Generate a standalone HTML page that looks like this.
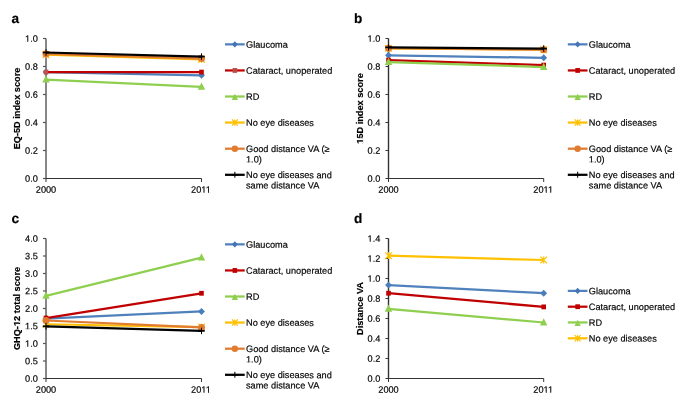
<!DOCTYPE html><html><head><meta charset="utf-8"><style>html,body{margin:0;padding:0;background:#fff;width:685px;height:401px;overflow:hidden;}svg{display:block;will-change:transform;}text{font-family:"Liberation Sans",sans-serif;fill:#000;stroke:#000;stroke-width:0.18px;}</style></head><body>
<svg width="685" height="401" viewBox="0 0 685 401">
<text x="11.40" y="23.10" font-size="13.6" font-weight="bold" text-anchor="start" transform="rotate(0.03 11.40 23.10)" stroke-width="0">a</text>
<text x="0" y="0" font-size="9.2" font-weight="bold" text-anchor="middle" transform="translate(19.90,108.50) rotate(-90)">EQ-5D index score</text>
<text x="37.80" y="181.80" font-size="9.2" font-weight="normal" text-anchor="end" transform="rotate(0.03 37.80 181.80)" >0.0</text>
<text x="37.80" y="153.80" font-size="9.2" font-weight="normal" text-anchor="end" transform="rotate(0.03 37.80 153.80)" >0.2</text>
<text x="37.80" y="125.80" font-size="9.2" font-weight="normal" text-anchor="end" transform="rotate(0.03 37.80 125.80)" >0.4</text>
<text x="37.80" y="97.80" font-size="9.2" font-weight="normal" text-anchor="end" transform="rotate(0.03 37.80 97.80)" >0.6</text>
<text x="37.80" y="69.80" font-size="9.2" font-weight="normal" text-anchor="end" transform="rotate(0.03 37.80 69.80)" >0.8</text>
<text x="37.80" y="41.80" font-size="9.2" font-weight="normal" text-anchor="end" transform="rotate(0.03 37.80 41.80)" >1.0</text>
<text x="46.00" y="192.80" font-size="9.2" font-weight="normal" text-anchor="middle" transform="rotate(0.03 46.00 192.80)" >2000</text>
<text x="201.00" y="192.80" font-size="9.2" font-weight="normal" text-anchor="middle" transform="rotate(0.03 201.00 192.80)" >2011</text>
<path d="M46.00,38.50L46.00,178.50" stroke="#111" stroke-width="1.0" fill="none"/>
<path d="M43.00,178.50L46.00,178.50" stroke="#555" stroke-width="1.2" fill="none"/>
<path d="M43.00,150.50L46.00,150.50" stroke="#555" stroke-width="1.2" fill="none"/>
<path d="M43.00,122.50L46.00,122.50" stroke="#555" stroke-width="1.2" fill="none"/>
<path d="M43.00,94.50L46.00,94.50" stroke="#555" stroke-width="1.2" fill="none"/>
<path d="M43.00,66.50L46.00,66.50" stroke="#555" stroke-width="1.2" fill="none"/>
<path d="M43.00,38.50L46.00,38.50" stroke="#555" stroke-width="1.2" fill="none"/>
<path d="M46.00,178.50L201.50,178.50" stroke="#333" stroke-width="1.2" fill="none"/>
<path d="M46.00,178.50L46.00,182.00M201.50,178.50L201.50,182.00" stroke="#333" stroke-width="1" fill="none"/>
<path d="M46.00,72.10L201.50,75.32" stroke="#4F81BD" stroke-width="2.25" fill="none"/>
<path d="M46.00,68.65L49.45,72.10L46.00,75.55L42.55,72.10Z" fill="#4A7DBB"/>
<path d="M201.50,71.87L204.95,75.32L201.50,78.77L198.05,75.32Z" fill="#4A7DBB"/>
<path d="M46.00,72.10L201.50,72.10" stroke="#C00000" stroke-width="2.25" fill="none"/>
<rect x="43.70" y="69.70" width="4.60" height="4.80" fill="#C0504D"/>
<rect x="199.20" y="69.70" width="4.60" height="4.80" fill="#C00000"/>
<path d="M46.00,79.66L201.50,86.80" stroke="#8FCF4F" stroke-width="2.25" fill="none"/>
<path d="M46.00,75.36L49.70,82.56L42.30,82.56Z" fill="#8FCF4F"/>
<path d="M201.50,82.50L205.20,89.70L197.80,89.70Z" fill="#8FCF4F"/>
<path d="M46.00,54.60L201.50,59.36" stroke="#FFC000" stroke-width="2.25" fill="none"/>
<path d="M42.70,51.20L49.30,58.00M49.30,51.20L42.70,58.00M46.00,51.20L46.00,58.00" stroke="#FFC000" stroke-width="1.2" fill="none"/>
<path d="M198.20,55.96L204.80,62.76M204.80,55.96L198.20,62.76M201.50,55.96L201.50,62.76" stroke="#FFC000" stroke-width="1.2" fill="none"/>
<path d="M46.00,53.90L201.50,58.52" stroke="#E07B2F" stroke-width="2.25" fill="none"/>
<circle cx="46.00" cy="53.90" r="3.5" fill="#E07B2F"/>
<circle cx="201.50" cy="58.52" r="3.5" fill="#E07B2F"/>
<path d="M46.00,52.50L201.50,56.56" stroke="#000000" stroke-width="2.25" fill="none"/>
<path d="M46.00,49.25L46.00,55.75" stroke="#000000" stroke-width="1.05"/><path d="M42.75,52.50L49.25,52.50" stroke="#000000" stroke-width="1.7"/>
<path d="M201.50,53.31L201.50,59.81" stroke="#000000" stroke-width="1.05"/><path d="M198.25,56.56L204.75,56.56" stroke="#000000" stroke-width="1.7"/>
<path d="M225.00,44.35L244.70,44.35" stroke="#4F81BD" stroke-width="2.25" fill="none"/>
<path d="M234.85,41.25L237.75,44.35L234.85,47.45L231.95,44.35Z" fill="#4375B5"/>
<text x="246.00" y="47.65" font-size="9.2" font-weight="normal" text-anchor="start" transform="rotate(0.03 246.00 47.65)" >Glaucoma</text>
<path d="M225.00,70.45L244.70,70.45" stroke="#C00000" stroke-width="2.25" fill="none"/>
<rect x="232.55" y="68.05" width="4.60" height="4.80" fill="#B94B4B"/>
<text x="246.00" y="73.75" font-size="9.2" font-weight="normal" text-anchor="start" transform="rotate(0.03 246.00 73.75)" >Cataract, unoperated</text>
<path d="M225.00,96.50L244.70,96.50" stroke="#8FCF4F" stroke-width="2.25" fill="none"/>
<path d="M234.85,93.70L238.05,100.00L231.65,100.00Z" fill="#8FCF4F"/>
<text x="246.00" y="99.80" font-size="9.2" font-weight="normal" text-anchor="start" transform="rotate(0.03 246.00 99.80)" >RD</text>
<path d="M225.00,122.55L244.70,122.55" stroke="#FFC000" stroke-width="2.25" fill="none"/>
<path d="M231.95,119.45L237.75,125.65M237.75,119.45L231.95,125.65M234.85,119.45L234.85,125.65" stroke="#FFC000" stroke-width="1.2" fill="none"/>
<text x="246.00" y="125.85" font-size="9.2" font-weight="normal" text-anchor="start" transform="rotate(0.03 246.00 125.85)" >No eye diseases</text>
<path d="M225.00,148.70L244.70,148.70" stroke="#E07B2F" stroke-width="2.25" fill="none"/>
<circle cx="234.85" cy="148.70" r="3.2" fill="#E07B2F"/>
<text x="246.00" y="152.00" font-size="9.2" font-weight="normal" text-anchor="start" transform="rotate(0.03 246.00 152.00)" >Good distance VA (≥</text>
<text x="246.00" y="162.40" font-size="9.2" font-weight="normal" text-anchor="start" transform="rotate(0.03 246.00 162.40)" >1.0)</text>
<path d="M225.00,174.80L244.70,174.80" stroke="#000000" stroke-width="2.25" fill="none"/>
<path d="M234.85,171.80L234.85,177.80" stroke="#000000" stroke-width="1.05"/><path d="M231.85,174.80L237.85,174.80" stroke="#000000" stroke-width="1.7"/>
<text x="246.00" y="178.10" font-size="9.2" font-weight="normal" text-anchor="start" transform="rotate(0.03 246.00 178.10)" >No eye diseases and</text>
<text x="246.00" y="188.50" font-size="9.2" font-weight="normal" text-anchor="start" transform="rotate(0.03 246.00 188.50)" >same distance VA</text>
<text x="353.90" y="23.10" font-size="13.6" font-weight="bold" text-anchor="start" transform="rotate(0.03 353.90 23.10)" stroke-width="0">b</text>
<text x="0" y="0" font-size="9.2" font-weight="bold" text-anchor="middle" transform="translate(363.00,108.50) rotate(-90)">15D index score</text>
<text x="380.30" y="181.80" font-size="9.2" font-weight="normal" text-anchor="end" transform="rotate(0.03 380.30 181.80)" >0.0</text>
<text x="380.30" y="153.80" font-size="9.2" font-weight="normal" text-anchor="end" transform="rotate(0.03 380.30 153.80)" >0.2</text>
<text x="380.30" y="125.80" font-size="9.2" font-weight="normal" text-anchor="end" transform="rotate(0.03 380.30 125.80)" >0.4</text>
<text x="380.30" y="97.80" font-size="9.2" font-weight="normal" text-anchor="end" transform="rotate(0.03 380.30 97.80)" >0.6</text>
<text x="380.30" y="69.80" font-size="9.2" font-weight="normal" text-anchor="end" transform="rotate(0.03 380.30 69.80)" >0.8</text>
<text x="380.30" y="41.80" font-size="9.2" font-weight="normal" text-anchor="end" transform="rotate(0.03 380.30 41.80)" >1.0</text>
<text x="388.50" y="192.80" font-size="9.2" font-weight="normal" text-anchor="middle" transform="rotate(0.03 388.50 192.80)" >2000</text>
<text x="543.20" y="192.80" font-size="9.2" font-weight="normal" text-anchor="middle" transform="rotate(0.03 543.20 192.80)" >2011</text>
<path d="M388.50,38.50L388.50,178.50" stroke="#333" stroke-width="1.4" fill="none"/>
<path d="M385.50,178.50L388.50,178.50" stroke="#333" stroke-width="1.0" fill="none"/>
<path d="M385.50,150.50L388.50,150.50" stroke="#333" stroke-width="1.0" fill="none"/>
<path d="M385.50,122.50L388.50,122.50" stroke="#333" stroke-width="1.0" fill="none"/>
<path d="M385.50,94.50L388.50,94.50" stroke="#333" stroke-width="1.0" fill="none"/>
<path d="M385.50,66.50L388.50,66.50" stroke="#333" stroke-width="1.0" fill="none"/>
<path d="M385.50,38.50L388.50,38.50" stroke="#333" stroke-width="1.0" fill="none"/>
<path d="M388.50,178.50L543.70,178.50" stroke="#333" stroke-width="1.2" fill="none"/>
<path d="M388.50,178.50L388.50,182.00M543.70,178.50L543.70,182.00" stroke="#333" stroke-width="1" fill="none"/>
<path d="M388.50,55.30L543.70,57.82" stroke="#4F81BD" stroke-width="2.25" fill="none"/>
<path d="M388.50,51.85L391.95,55.30L388.50,58.75L385.05,55.30Z" fill="#4A7DBB"/>
<path d="M543.70,54.37L547.15,57.82L543.70,61.27L540.25,57.82Z" fill="#4A7DBB"/>
<path d="M388.50,60.06L543.70,65.10" stroke="#C00000" stroke-width="2.25" fill="none"/>
<rect x="386.20" y="57.66" width="4.60" height="4.80" fill="#C00000"/>
<rect x="541.40" y="62.70" width="4.60" height="4.80" fill="#C00000"/>
<path d="M388.50,62.02L543.70,67.06" stroke="#8FCF4F" stroke-width="2.25" fill="none"/>
<path d="M388.50,57.72L392.20,64.92L384.80,64.92Z" fill="#8FCF4F"/>
<path d="M543.70,62.76L547.40,69.96L540.00,69.96Z" fill="#8FCF4F"/>
<path d="M388.50,48.30L543.70,49.70" stroke="#FFC000" stroke-width="2.25" fill="none"/>
<path d="M385.20,44.90L391.80,51.70M391.80,44.90L385.20,51.70M388.50,44.90L388.50,51.70" stroke="#FFC000" stroke-width="1.2" fill="none"/>
<path d="M540.40,46.30L547.00,53.10M547.00,46.30L540.40,53.10M543.70,46.30L543.70,53.10" stroke="#FFC000" stroke-width="1.2" fill="none"/>
<path d="M388.50,48.16L543.70,49.70" stroke="#E07B2F" stroke-width="2.25" fill="none"/>
<circle cx="388.50" cy="48.16" r="3.5" fill="#E07B2F"/>
<circle cx="543.70" cy="49.70" r="3.5" fill="#E07B2F"/>
<path d="M388.50,47.32L543.70,48.58" stroke="#000000" stroke-width="2.25" fill="none"/>
<path d="M388.50,44.07L388.50,50.57" stroke="#000000" stroke-width="1.05"/><path d="M385.25,47.32L391.75,47.32" stroke="#000000" stroke-width="1.7"/>
<path d="M543.70,45.33L543.70,51.83" stroke="#000000" stroke-width="1.05"/><path d="M540.45,48.58L546.95,48.58" stroke="#000000" stroke-width="1.7"/>
<path d="M567.80,44.35L587.50,44.35" stroke="#4F81BD" stroke-width="2.25" fill="none"/>
<path d="M577.65,41.25L580.55,44.35L577.65,47.45L574.75,44.35Z" fill="#4375B5"/>
<text x="588.80" y="47.65" font-size="9.2" font-weight="normal" text-anchor="start" transform="rotate(0.03 588.80 47.65)" >Glaucoma</text>
<path d="M567.80,70.45L587.50,70.45" stroke="#C00000" stroke-width="2.25" fill="none"/>
<rect x="575.35" y="68.05" width="4.60" height="4.80" fill="#C00000"/>
<text x="588.80" y="73.75" font-size="9.2" font-weight="normal" text-anchor="start" transform="rotate(0.03 588.80 73.75)" >Cataract, unoperated</text>
<path d="M567.80,96.50L587.50,96.50" stroke="#8FCF4F" stroke-width="2.25" fill="none"/>
<path d="M577.65,93.70L580.85,100.00L574.45,100.00Z" fill="#8FCF4F"/>
<text x="588.80" y="99.80" font-size="9.2" font-weight="normal" text-anchor="start" transform="rotate(0.03 588.80 99.80)" >RD</text>
<path d="M567.80,122.55L587.50,122.55" stroke="#FFC000" stroke-width="2.25" fill="none"/>
<path d="M574.75,119.45L580.55,125.65M580.55,119.45L574.75,125.65M577.65,119.45L577.65,125.65" stroke="#FFC000" stroke-width="1.2" fill="none"/>
<text x="588.80" y="125.85" font-size="9.2" font-weight="normal" text-anchor="start" transform="rotate(0.03 588.80 125.85)" >No eye diseases</text>
<path d="M567.80,148.70L587.50,148.70" stroke="#E07B2F" stroke-width="2.25" fill="none"/>
<circle cx="577.65" cy="148.70" r="3.2" fill="#E07B2F"/>
<text x="588.80" y="152.00" font-size="9.2" font-weight="normal" text-anchor="start" transform="rotate(0.03 588.80 152.00)" >Good distance VA (≥</text>
<text x="588.80" y="162.40" font-size="9.2" font-weight="normal" text-anchor="start" transform="rotate(0.03 588.80 162.40)" >1.0)</text>
<path d="M567.80,174.80L587.50,174.80" stroke="#000000" stroke-width="2.25" fill="none"/>
<path d="M577.65,171.80L577.65,177.80" stroke="#000000" stroke-width="1.05"/><path d="M574.65,174.80L580.65,174.80" stroke="#000000" stroke-width="1.7"/>
<text x="588.80" y="178.10" font-size="9.2" font-weight="normal" text-anchor="start" transform="rotate(0.03 588.80 178.10)" >No eye diseases and</text>
<text x="588.80" y="188.50" font-size="9.2" font-weight="normal" text-anchor="start" transform="rotate(0.03 588.80 188.50)" >same distance VA</text>
<text x="11.40" y="223.10" font-size="13.6" font-weight="bold" text-anchor="start" transform="rotate(0.03 11.40 223.10)" stroke-width="0">c</text>
<text x="0" y="0" font-size="9.2" font-weight="bold" text-anchor="middle" transform="translate(19.90,308.50) rotate(-90)">GHQ-12 total score</text>
<text x="37.80" y="381.80" font-size="9.2" font-weight="normal" text-anchor="end" transform="rotate(0.03 37.80 381.80)" >0.0</text>
<text x="37.80" y="364.30" font-size="9.2" font-weight="normal" text-anchor="end" transform="rotate(0.03 37.80 364.30)" >0.5</text>
<text x="37.80" y="346.80" font-size="9.2" font-weight="normal" text-anchor="end" transform="rotate(0.03 37.80 346.80)" >1.0</text>
<text x="37.80" y="329.30" font-size="9.2" font-weight="normal" text-anchor="end" transform="rotate(0.03 37.80 329.30)" >1.5</text>
<text x="37.80" y="311.80" font-size="9.2" font-weight="normal" text-anchor="end" transform="rotate(0.03 37.80 311.80)" >2.0</text>
<text x="37.80" y="294.30" font-size="9.2" font-weight="normal" text-anchor="end" transform="rotate(0.03 37.80 294.30)" >2.5</text>
<text x="37.80" y="276.80" font-size="9.2" font-weight="normal" text-anchor="end" transform="rotate(0.03 37.80 276.80)" >3.0</text>
<text x="37.80" y="259.30" font-size="9.2" font-weight="normal" text-anchor="end" transform="rotate(0.03 37.80 259.30)" >3.5</text>
<text x="37.80" y="241.80" font-size="9.2" font-weight="normal" text-anchor="end" transform="rotate(0.03 37.80 241.80)" >4.0</text>
<text x="46.00" y="392.80" font-size="9.2" font-weight="normal" text-anchor="middle" transform="rotate(0.03 46.00 392.80)" >2000</text>
<text x="201.00" y="392.80" font-size="9.2" font-weight="normal" text-anchor="middle" transform="rotate(0.03 201.00 392.80)" >2011</text>
<path d="M46.00,238.50L46.00,378.50" stroke="#111" stroke-width="1.0" fill="none"/>
<path d="M43.00,378.50L46.00,378.50" stroke="#555" stroke-width="1.2" fill="none"/>
<path d="M43.00,361.00L46.00,361.00" stroke="#555" stroke-width="1.2" fill="none"/>
<path d="M43.00,343.50L46.00,343.50" stroke="#555" stroke-width="1.2" fill="none"/>
<path d="M43.00,326.00L46.00,326.00" stroke="#555" stroke-width="1.2" fill="none"/>
<path d="M43.00,308.50L46.00,308.50" stroke="#555" stroke-width="1.2" fill="none"/>
<path d="M43.00,291.00L46.00,291.00" stroke="#555" stroke-width="1.2" fill="none"/>
<path d="M43.00,273.50L46.00,273.50" stroke="#555" stroke-width="1.2" fill="none"/>
<path d="M43.00,256.00L46.00,256.00" stroke="#555" stroke-width="1.2" fill="none"/>
<path d="M43.00,238.50L46.00,238.50" stroke="#555" stroke-width="1.2" fill="none"/>
<path d="M46.00,378.50L201.50,378.50" stroke="#333" stroke-width="1.2" fill="none"/>
<path d="M46.00,378.50L46.00,382.00M201.50,378.50L201.50,382.00" stroke="#333" stroke-width="1" fill="none"/>
<path d="M46.00,318.65L201.50,311.48" stroke="#4F81BD" stroke-width="2.25" fill="none"/>
<path d="M46.00,315.20L49.45,318.65L46.00,322.10L42.55,318.65Z" fill="#4A7DBB"/>
<path d="M201.50,308.03L204.95,311.48L201.50,314.93L198.05,311.48Z" fill="#4A7DBB"/>
<path d="M46.00,318.02L201.50,293.27" stroke="#C00000" stroke-width="2.25" fill="none"/>
<rect x="43.70" y="315.62" width="4.60" height="4.80" fill="#C00000"/>
<rect x="199.20" y="290.88" width="4.60" height="4.80" fill="#C00000"/>
<path d="M46.00,295.90L201.50,257.57" stroke="#8FCF4F" stroke-width="2.25" fill="none"/>
<path d="M46.00,291.60L49.70,298.80L42.30,298.80Z" fill="#8FCF4F"/>
<path d="M201.50,253.27L205.20,260.47L197.80,260.47Z" fill="#8FCF4F"/>
<path d="M46.00,324.25L201.50,327.05" stroke="#FFC000" stroke-width="2.25" fill="none"/>
<path d="M42.70,320.85L49.30,327.65M49.30,320.85L42.70,327.65M46.00,320.85L46.00,327.65" stroke="#FFC000" stroke-width="1.2" fill="none"/>
<path d="M198.20,323.65L204.80,330.45M204.80,323.65L198.20,330.45M201.50,323.65L201.50,330.45" stroke="#FFC000" stroke-width="1.2" fill="none"/>
<path d="M46.00,320.50L201.50,327.40" stroke="#E07B2F" stroke-width="2.25" fill="none"/>
<circle cx="46.00" cy="320.50" r="3.5" fill="#E07B2F"/>
<circle cx="201.50" cy="327.40" r="3.5" fill="#E07B2F"/>
<path d="M46.00,326.35L201.50,330.90" stroke="#000000" stroke-width="2.25" fill="none"/>
<path d="M46.00,323.10L46.00,329.60" stroke="#000000" stroke-width="1.05"/><path d="M42.75,326.35L49.25,326.35" stroke="#000000" stroke-width="1.7"/>
<path d="M201.50,327.65L201.50,334.15" stroke="#000000" stroke-width="1.05"/><path d="M198.25,330.90L204.75,330.90" stroke="#000000" stroke-width="1.7"/>
<path d="M225.00,244.35L244.70,244.35" stroke="#4F81BD" stroke-width="2.25" fill="none"/>
<path d="M234.85,241.25L237.75,244.35L234.85,247.45L231.95,244.35Z" fill="#4375B5"/>
<text x="246.00" y="247.65" font-size="9.2" font-weight="normal" text-anchor="start" transform="rotate(0.03 246.00 247.65)" >Glaucoma</text>
<path d="M225.00,270.45L244.70,270.45" stroke="#C00000" stroke-width="2.25" fill="none"/>
<rect x="232.55" y="268.05" width="4.60" height="4.80" fill="#C00000"/>
<text x="246.00" y="273.75" font-size="9.2" font-weight="normal" text-anchor="start" transform="rotate(0.03 246.00 273.75)" >Cataract, unoperated</text>
<path d="M225.00,296.50L244.70,296.50" stroke="#8FCF4F" stroke-width="2.25" fill="none"/>
<path d="M234.85,293.70L238.05,300.00L231.65,300.00Z" fill="#8FCF4F"/>
<text x="246.00" y="299.80" font-size="9.2" font-weight="normal" text-anchor="start" transform="rotate(0.03 246.00 299.80)" >RD</text>
<path d="M225.00,322.55L244.70,322.55" stroke="#FFC000" stroke-width="2.25" fill="none"/>
<path d="M231.95,319.45L237.75,325.65M237.75,319.45L231.95,325.65M234.85,319.45L234.85,325.65" stroke="#FFC000" stroke-width="1.2" fill="none"/>
<text x="246.00" y="325.85" font-size="9.2" font-weight="normal" text-anchor="start" transform="rotate(0.03 246.00 325.85)" >No eye diseases</text>
<path d="M225.00,348.70L244.70,348.70" stroke="#E07B2F" stroke-width="2.25" fill="none"/>
<circle cx="234.85" cy="348.70" r="3.2" fill="#E07B2F"/>
<text x="246.00" y="352.00" font-size="9.2" font-weight="normal" text-anchor="start" transform="rotate(0.03 246.00 352.00)" >Good distance VA (≥</text>
<text x="246.00" y="362.40" font-size="9.2" font-weight="normal" text-anchor="start" transform="rotate(0.03 246.00 362.40)" >1.0)</text>
<path d="M225.00,374.80L244.70,374.80" stroke="#000000" stroke-width="2.25" fill="none"/>
<path d="M234.85,371.80L234.85,377.80" stroke="#000000" stroke-width="1.05"/><path d="M231.85,374.80L237.85,374.80" stroke="#000000" stroke-width="1.7"/>
<text x="246.00" y="378.10" font-size="9.2" font-weight="normal" text-anchor="start" transform="rotate(0.03 246.00 378.10)" >No eye diseases and</text>
<text x="246.00" y="388.50" font-size="9.2" font-weight="normal" text-anchor="start" transform="rotate(0.03 246.00 388.50)" >same distance VA</text>
<text x="353.90" y="223.10" font-size="13.6" font-weight="bold" text-anchor="start" transform="rotate(0.03 353.90 223.10)" stroke-width="0">d</text>
<text x="0" y="0" font-size="9.2" font-weight="bold" text-anchor="middle" transform="translate(363.00,308.50) rotate(-90)">Distance VA</text>
<text x="380.30" y="381.80" font-size="9.2" font-weight="normal" text-anchor="end" transform="rotate(0.03 380.30 381.80)" >0.0</text>
<text x="380.30" y="361.80" font-size="9.2" font-weight="normal" text-anchor="end" transform="rotate(0.03 380.30 361.80)" >0.2</text>
<text x="380.30" y="341.80" font-size="9.2" font-weight="normal" text-anchor="end" transform="rotate(0.03 380.30 341.80)" >0.4</text>
<text x="380.30" y="321.80" font-size="9.2" font-weight="normal" text-anchor="end" transform="rotate(0.03 380.30 321.80)" >0.6</text>
<text x="380.30" y="301.80" font-size="9.2" font-weight="normal" text-anchor="end" transform="rotate(0.03 380.30 301.80)" >0.8</text>
<text x="380.30" y="281.80" font-size="9.2" font-weight="normal" text-anchor="end" transform="rotate(0.03 380.30 281.80)" >1.0</text>
<text x="380.30" y="261.80" font-size="9.2" font-weight="normal" text-anchor="end" transform="rotate(0.03 380.30 261.80)" >1.2</text>
<text x="380.30" y="241.80" font-size="9.2" font-weight="normal" text-anchor="end" transform="rotate(0.03 380.30 241.80)" >1.4</text>
<text x="388.50" y="392.80" font-size="9.2" font-weight="normal" text-anchor="middle" transform="rotate(0.03 388.50 392.80)" >2000</text>
<text x="543.20" y="392.80" font-size="9.2" font-weight="normal" text-anchor="middle" transform="rotate(0.03 543.20 392.80)" >2011</text>
<path d="M388.50,238.50L388.50,378.50" stroke="#333" stroke-width="1.4" fill="none"/>
<path d="M385.50,378.50L388.50,378.50" stroke="#333" stroke-width="1.0" fill="none"/>
<path d="M385.50,358.50L388.50,358.50" stroke="#333" stroke-width="1.0" fill="none"/>
<path d="M385.50,338.50L388.50,338.50" stroke="#333" stroke-width="1.0" fill="none"/>
<path d="M385.50,318.50L388.50,318.50" stroke="#333" stroke-width="1.0" fill="none"/>
<path d="M385.50,298.50L388.50,298.50" stroke="#333" stroke-width="1.0" fill="none"/>
<path d="M385.50,278.50L388.50,278.50" stroke="#333" stroke-width="1.0" fill="none"/>
<path d="M385.50,258.50L388.50,258.50" stroke="#333" stroke-width="1.0" fill="none"/>
<path d="M385.50,238.50L388.50,238.50" stroke="#333" stroke-width="1.0" fill="none"/>
<path d="M388.50,378.50L543.70,378.50" stroke="#333" stroke-width="1.2" fill="none"/>
<path d="M388.50,378.50L388.50,382.00M543.70,378.50L543.70,382.00" stroke="#333" stroke-width="1" fill="none"/>
<path d="M388.50,285.10L543.70,293.20" stroke="#4F81BD" stroke-width="2.25" fill="none"/>
<path d="M388.50,281.65L391.95,285.10L388.50,288.55L385.05,285.10Z" fill="#4A7DBB"/>
<path d="M543.70,289.75L547.15,293.20L543.70,296.65L540.25,293.20Z" fill="#4A7DBB"/>
<path d="M388.50,293.20L543.70,306.90" stroke="#C00000" stroke-width="2.25" fill="none"/>
<rect x="386.20" y="290.80" width="4.60" height="4.80" fill="#C00000"/>
<rect x="541.40" y="304.50" width="4.60" height="4.80" fill="#C00000"/>
<path d="M388.50,308.80L543.70,322.50" stroke="#8FCF4F" stroke-width="2.25" fill="none"/>
<path d="M388.50,304.50L392.20,311.70L384.80,311.70Z" fill="#8FCF4F"/>
<path d="M543.70,318.20L547.40,325.40L540.00,325.40Z" fill="#8FCF4F"/>
<path d="M388.50,255.70L543.70,260.00" stroke="#FFC000" stroke-width="2.25" fill="none"/>
<path d="M385.20,252.30L391.80,259.10M391.80,252.30L385.20,259.10M388.50,252.30L388.50,259.10" stroke="#FFC000" stroke-width="1.2" fill="none"/>
<path d="M540.40,256.60L547.00,263.40M547.00,256.60L540.40,263.40M543.70,256.60L543.70,263.40" stroke="#FFC000" stroke-width="1.2" fill="none"/>
<path d="M567.80,290.90L587.50,290.90" stroke="#4F81BD" stroke-width="2.25" fill="none"/>
<path d="M577.65,287.80L580.55,290.90L577.65,294.00L574.75,290.90Z" fill="#4375B5"/>
<text x="588.80" y="294.20" font-size="9.2" font-weight="normal" text-anchor="start" transform="rotate(0.03 588.80 294.20)" >Glaucoma</text>
<path d="M567.80,306.70L587.50,306.70" stroke="#C00000" stroke-width="2.25" fill="none"/>
<rect x="575.35" y="304.30" width="4.60" height="4.80" fill="#C00000"/>
<text x="588.80" y="310.00" font-size="9.2" font-weight="normal" text-anchor="start" transform="rotate(0.03 588.80 310.00)" >Cataract, unoperated</text>
<path d="M567.80,322.45L587.50,322.45" stroke="#8FCF4F" stroke-width="2.25" fill="none"/>
<path d="M577.65,319.65L580.85,325.95L574.45,325.95Z" fill="#8FCF4F"/>
<text x="588.80" y="325.75" font-size="9.2" font-weight="normal" text-anchor="start" transform="rotate(0.03 588.80 325.75)" >RD</text>
<path d="M567.80,338.30L587.50,338.30" stroke="#FFC000" stroke-width="2.25" fill="none"/>
<path d="M574.75,335.20L580.55,341.40M580.55,335.20L574.75,341.40M577.65,335.20L577.65,341.40" stroke="#FFC000" stroke-width="1.2" fill="none"/>
<text x="588.80" y="341.60" font-size="9.2" font-weight="normal" text-anchor="start" transform="rotate(0.03 588.80 341.60)" >No eye diseases</text>
<rect x="25.29" y="40.96" width="1.98" height="1.14" fill="#fff"/>
<rect x="28.22" y="40.96" width="1.88" height="1.14" fill="#fff"/>
<rect x="201.61" y="191.96" width="1.98" height="1.14" fill="#fff"/>
<rect x="204.53" y="191.96" width="1.88" height="1.14" fill="#fff"/>
<rect x="206.03" y="191.96" width="1.98" height="1.14" fill="#fff"/>
<rect x="208.96" y="191.96" width="1.88" height="1.14" fill="#fff"/>
<rect x="246.27" y="161.56" width="1.98" height="1.14" fill="#fff"/>
<rect x="249.20" y="161.56" width="1.88" height="1.14" fill="#fff"/>
<g transform="translate(363.00,108.50) rotate(-90)"><rect x="-35.06" y="-0.99" width="1.90" height="1.29" fill="#fff"/><rect x="-31.77" y="-0.99" width="1.60" height="1.29" fill="#fff"/></g>
<rect x="367.79" y="40.96" width="1.98" height="1.14" fill="#fff"/>
<rect x="370.72" y="40.96" width="1.88" height="1.14" fill="#fff"/>
<rect x="543.81" y="191.96" width="1.98" height="1.14" fill="#fff"/>
<rect x="546.73" y="191.96" width="1.88" height="1.14" fill="#fff"/>
<rect x="548.23" y="191.96" width="1.98" height="1.14" fill="#fff"/>
<rect x="551.16" y="191.96" width="1.88" height="1.14" fill="#fff"/>
<rect x="589.07" y="161.56" width="1.98" height="1.14" fill="#fff"/>
<rect x="592.00" y="161.56" width="1.88" height="1.14" fill="#fff"/>
<g transform="translate(19.90,308.50) rotate(-90)"><rect x="-17.45" y="-0.99" width="1.90" height="1.29" fill="#fff"/><rect x="-14.16" y="-0.99" width="1.60" height="1.29" fill="#fff"/></g>
<rect x="25.29" y="345.96" width="1.98" height="1.14" fill="#fff"/>
<rect x="28.22" y="345.96" width="1.88" height="1.14" fill="#fff"/>
<rect x="25.29" y="328.46" width="1.98" height="1.14" fill="#fff"/>
<rect x="28.22" y="328.46" width="1.88" height="1.14" fill="#fff"/>
<rect x="201.61" y="391.96" width="1.98" height="1.14" fill="#fff"/>
<rect x="204.53" y="391.96" width="1.88" height="1.14" fill="#fff"/>
<rect x="206.03" y="391.96" width="1.98" height="1.14" fill="#fff"/>
<rect x="208.96" y="391.96" width="1.88" height="1.14" fill="#fff"/>
<rect x="246.27" y="361.56" width="1.98" height="1.14" fill="#fff"/>
<rect x="249.20" y="361.56" width="1.88" height="1.14" fill="#fff"/>
<rect x="367.79" y="280.96" width="1.98" height="1.14" fill="#fff"/>
<rect x="370.72" y="280.96" width="1.88" height="1.14" fill="#fff"/>
<rect x="367.79" y="260.96" width="1.98" height="1.14" fill="#fff"/>
<rect x="370.72" y="260.96" width="1.88" height="1.14" fill="#fff"/>
<rect x="367.79" y="240.96" width="1.98" height="1.14" fill="#fff"/>
<rect x="370.72" y="240.96" width="1.88" height="1.14" fill="#fff"/>
<rect x="543.81" y="391.96" width="1.98" height="1.14" fill="#fff"/>
<rect x="546.73" y="391.96" width="1.88" height="1.14" fill="#fff"/>
<rect x="548.23" y="391.96" width="1.98" height="1.14" fill="#fff"/>
<rect x="551.16" y="391.96" width="1.88" height="1.14" fill="#fff"/>
</svg></body></html>
